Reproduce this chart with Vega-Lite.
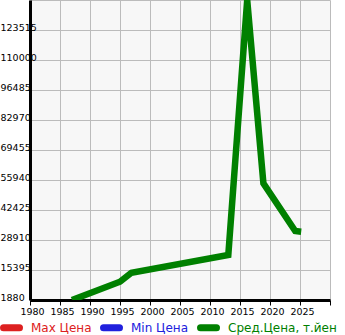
{
  "$schema": "https://vega.github.io/schema/vega-lite/v6.json",
  "width": 300,
  "height": 300,
  "autosize": {"type": "none"},
  "padding": {"left": 30, "top": 0, "right": 15, "bottom": 35},
  "background": "white",
  "view": {"fill": "#f7f7f7", "stroke": null},
  "data": {
    "values": [
      {"year": 1987, "value": 1880, "series": "Сред.Цена, т.йен"},
      {"year": 1995, "value": 10124, "series": "Сред.Цена, т.йен"},
      {"year": 1996.9, "value": 14180, "series": "Сред.Цена, т.йен"},
      {"year": 2013.05, "value": 22150, "series": "Сред.Цена, т.йен"},
      {"year": 2016.2, "value": 137030, "series": "Сред.Цена, т.йен"},
      {"year": 2018.9, "value": 54450, "series": "Сред.Цена, т.йен"},
      {"year": 2024.2, "value": 32965, "series": "Сред.Цена, т.йен"},
      {"year": 2025.2, "value": 32650, "series": "Сред.Цена, т.йен"}
    ]
  },
  "mark": {"type": "line", "strokeWidth": 6.5, "clip": true},
  "encoding": {
    "x": {
      "field": "year",
      "type": "quantitative",
      "scale": {"domain": [1980, 2030], "nice": false, "zero": false},
      "axis": {
        "title": null,
        "values": [1980, 1985, 1990, 1995, 2000, 2005, 2010, 2015, 2020, 2025, 2030],
        "format": "d",
        "labelExpr": "datum.value == 2030 ? '' : datum.label",
        "grid": true,
        "gridColor": "#bbbbbb",
        "gridWidth": 1,
        "domainColor": "black",
        "domainWidth": 3,
        "tickColor": "black",
        "tickWidth": 1,
        "tickSize": 5,
        "labelPadding": 1,
        "labelOffset": 2,
        "labelFont": "DejaVu Sans",
        "labelFontSize": 9.5,
        "labelColor": "black",
        "labelFlush": false,
        "labelOverlap": false
      }
    },
    "y": {
      "field": "value",
      "type": "quantitative",
      "scale": {"domain": [1880, 137030], "nice": false, "zero": false},
      "axis": {
        "title": null,
        "values": [1880, 15395, 28910, 42425, 55940, 69455, 82970, 96485, 110000, 123515, 137030],
        "format": "d",
        "labelExpr": "datum.value == 137030 ? '' : datum.label",
        "grid": true,
        "gridColor": "#bbbbbb",
        "gridWidth": 1,
        "domainColor": "black",
        "domainWidth": 3,
        "ticks": false,
        "tickSize": 0,
        "labelAlign": "left",
        "labelBaseline": "middle",
        "labelPadding": 30,
        "labelOffset": -3,
        "labelFont": "DejaVu Sans",
        "labelFontSize": 9.5,
        "labelColor": "black",
        "labelFlush": false,
        "labelOverlap": false
      }
    },
    "color": {
      "field": "series",
      "type": "nominal",
      "scale": {
        "domain": ["Max Цена", "Min Цена", "Сред.Цена, т.йен"],
        "range": ["#dd2020", "#2020dd", "#008000"]
      },
      "legend": {
        "title": null,
        "orient": "none",
        "legendX": -30,
        "legendY": 316,
        "direction": "horizontal",
        "symbolType": "stroke",
        "symbolStrokeWidth": 7,
        "symbolSize": 256,
        "labelFont": "DejaVu Sans",
        "labelFontSize": 12,
        "labelOffset": 8,
        "columnPadding": -3,
        "padding": 0,
        "encode": {
          "labels": {"update": {"fill": {"scale": "color", "field": "value"}}},
          "symbols": {"update": {"strokeCap": {"value": "round"}}}
        }
      }
    }
  }
}
